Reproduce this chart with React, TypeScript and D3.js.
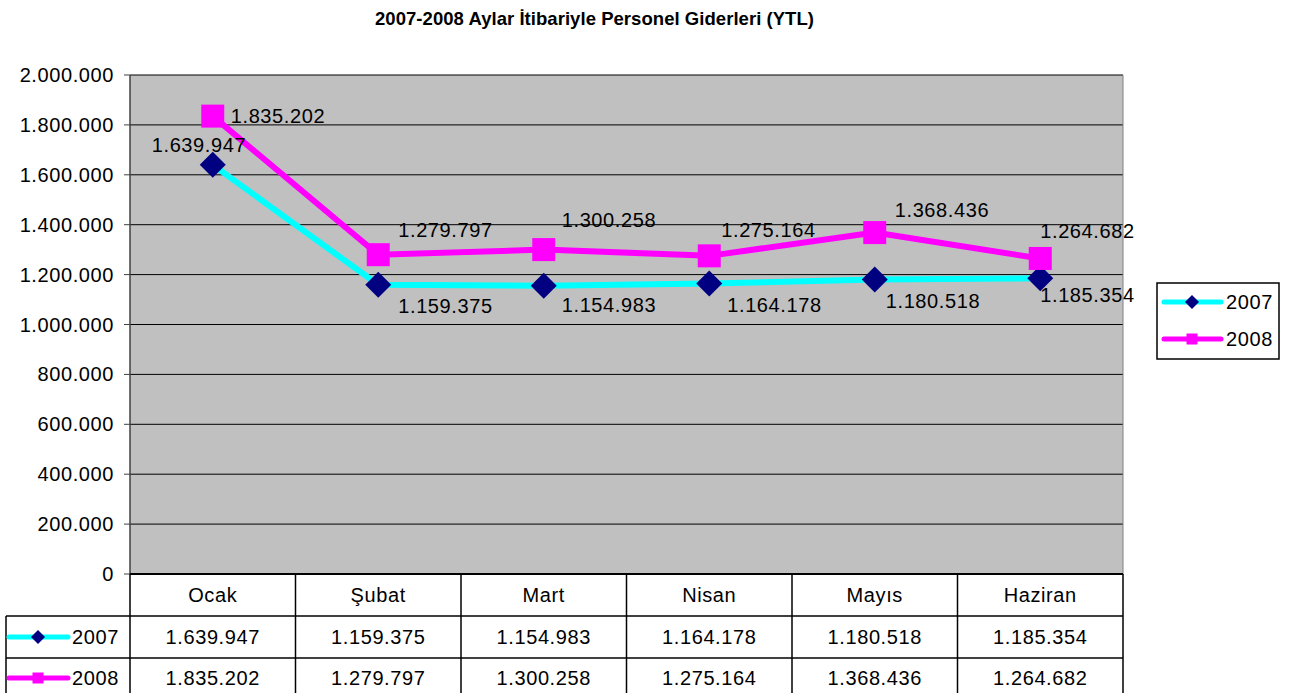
import React from "react";
import * as d3 from "d3";

const months = ["Ocak", "Şubat", "Mart", "Nisan", "Mayıs", "Haziran"];
const values2007 = [1639947, 1159375, 1154983, 1164178, 1180518, 1185354];
const values2008 = [1835202, 1279797, 1300258, 1275164, 1368436, 1264682];
const yTicks = [0, 200000, 400000, 600000, 800000, 1000000, 1200000, 1400000, 1600000, 1800000, 2000000];
const seriesNames = ["2007", "2008"];
const title = "2007-2008 Aylar İtibariyle Personel Giderleri (YTL)";

// label placement offsets (relative to the marker): [dx to label left, dy to baseline]
const labelOffsets2007 = [[-61, -13], [20, 28], [18, 26], [18, 28.5], [11, 28.5], [0, 24]];
const labelOffsets2008 = [[18, 7], [20, -18], [18, -23], [12, -19], [20, -16], [0, -20.5]];

const W = 1299;
const H = 693;
const plotL = 130;
const plotR = 1123;
const plotT = 75;
const plotB = 574;
const rowH = 42;
const FONT = "'Liberation Sans', Arial, sans-serif";
const FS = 20;
const LS = 0.6;

const trLocale = d3.formatLocale({ decimal: ",", thousands: ".", grouping: [3], currency: ["", " YTL"] });
const fmt = trLocale.format(",d");

const C2007 = "#00FFFF";
const M2007 = "#000080";
const C2008 = "#FF00FF";

function Diamond({ cx, cy, r, fill }: { cx: number; cy: number; r: number; fill: string }) {
  const p = `M${cx},${cy - r}L${cx + r},${cy}L${cx},${cy + r}L${cx - r},${cy}Z`;
  return <path d={p} fill={fill} />;
}

function Square({ cx, cy, s, fill }: { cx: number; cy: number; s: number; fill: string }) {
  return <rect x={cx - s / 2} y={cy - s / 2} width={s} height={s} fill={fill} />;
}

export default function App() {
  const x = d3.scaleBand<string>().domain(months).range([plotL, plotR]).paddingInner(0).paddingOuter(0);
  const y = d3.scaleLinear().domain([0, 2000000]).range([plotB, plotT]);
  const cx = (m: string) => (x(m) as number) + x.bandwidth() / 2;

  const line = d3
    .line<number>()
    .x((_, i) => cx(months[i]))
    .y((d) => y(d));

  const row1Top = plotB;
  const row2Top = plotB + rowH;
  const row3Top = plotB + 2 * rowH;
  const tableLeft = 6;

  const textStyle: React.CSSProperties = { fontFamily: FONT, fontSize: FS, letterSpacing: LS };

  return (
    <svg
      width={W}
      height={H}
      viewBox={`0 0 ${W} ${H}`}
      style={{ position: "absolute", left: 0, top: 0, background: "#fff" }}
    >
      <rect x={0} y={0} width={W} height={H} fill="#fff" />
      {/* Title */}
      <text
        x={594.5}
        y={25}
        textAnchor="middle"
        textLength={439}
        lengthAdjust="spacing"
        style={{ fontFamily: FONT, fontSize: 18.5, fontWeight: "bold" }}
      >
        {title}
      </text>

      {/* Plot area */}
      <rect x={plotL} y={plotT} width={plotR - plotL} height={plotB - plotT} fill="#C0C0C0" />
      {yTicks.map((t) => (
        <line key={"g" + t} x1={plotL} x2={plotR} y1={y(t)} y2={y(t)} stroke="#000" strokeWidth={1} />
      ))}
      <line x1={plotR} x2={plotR} y1={plotT} y2={plotB} stroke="#808080" strokeWidth={1} />
      <line x1={plotL} x2={plotL} y1={plotT} y2={plotB} stroke="#404040" strokeWidth={1.5} />

      {/* Y axis ticks and labels */}
      {yTicks.map((t) => (
        <g key={"t" + t}>
          <line x1={plotL - 6} x2={plotL} y1={y(t)} y2={y(t)} stroke="#404040" strokeWidth={1} />
          <text x={114} y={y(t)} dy="0.35em" textAnchor="end" style={textStyle}>
            {fmt(t)}
          </text>
        </g>
      ))}

      {/* Lines */}
      <path d={line(values2007) as string} fill="none" stroke={C2007} strokeWidth={6} strokeLinejoin="round" />
      <path d={line(values2008) as string} fill="none" stroke={C2008} strokeWidth={6} strokeLinejoin="round" />

      {/* Markers */}
      {values2007.map((v, i) => (
        <Diamond key={"d" + i} cx={cx(months[i])} cy={y(v)} r={13} fill={M2007} />
      ))}
      {values2008.map((v, i) => (
        <Square key={"s" + i} cx={cx(months[i])} cy={y(v)} s={23} fill={C2008} />
      ))}

      {/* Data labels */}
      {values2007.map((v, i) => (
        <text
          key={"l7" + i}
          x={cx(months[i]) + labelOffsets2007[i][0]}
          y={y(v) + labelOffsets2007[i][1]}
          style={textStyle}
        >
          {fmt(v)}
        </text>
      ))}
      {values2008.map((v, i) => (
        <text
          key={"l8" + i}
          x={cx(months[i]) + labelOffsets2008[i][0]}
          y={y(v) + labelOffsets2008[i][1]}
          style={textStyle}
        >
          {fmt(v)}
        </text>
      ))}

      {/* Data table */}
      <g>
        <line x1={plotL} x2={plotR} y1={row1Top} y2={row1Top} stroke="#000" strokeWidth={2} />
        <line x1={tableLeft} x2={plotR} y1={row2Top} y2={row2Top} stroke="#000" strokeWidth={1.5} />
        <line x1={tableLeft} x2={plotR} y1={row3Top} y2={row3Top} stroke="#000" strokeWidth={1.5} />
        <line x1={tableLeft} x2={tableLeft} y1={row2Top} y2={H + 5} stroke="#000" strokeWidth={1.5} />
        {months.map((m) => (
          <line key={"v" + m} x1={x(m) as number} x2={x(m) as number} y1={row1Top} y2={H + 5} stroke="#000" strokeWidth={1.5} />
        ))}
        <line x1={plotR} x2={plotR} y1={row1Top} y2={H + 5} stroke="#000" strokeWidth={1.5} />

        {months.map((m) => (
          <text key={"c" + m} x={cx(m)} y={row1Top + rowH / 2} dy="0.35em" textAnchor="middle" style={textStyle}>
            {m}
          </text>
        ))}
        {values2007.map((v, i) => (
          <text key={"t7" + i} x={cx(months[i])} y={row2Top + rowH / 2} dy="0.35em" textAnchor="middle" style={textStyle}>
            {fmt(v)}
          </text>
        ))}
        {values2008.map((v, i) => (
          <text key={"t8" + i} x={cx(months[i])} y={row3Top + rowH / 2 - 1} dy="0.35em" textAnchor="middle" style={textStyle}>
            {fmt(v)}
          </text>
        ))}

        {/* legend keys inside the table */}
        <line x1={9} x2={68} y1={row2Top + rowH / 2} y2={row2Top + rowH / 2} stroke={C2007} strokeWidth={5} strokeLinecap="round" />
        <Diamond cx={38} cy={row2Top + rowH / 2} r={7} fill={M2007} />
        <text x={72} y={row2Top + rowH / 2} dy="0.35em" style={textStyle}>
          {seriesNames[0]}
        </text>
        <line x1={9} x2={68} y1={row3Top + rowH / 2 - 1} y2={row3Top + rowH / 2 - 1} stroke={C2008} strokeWidth={5} strokeLinecap="round" />
        <Square cx={38} cy={row3Top + rowH / 2 - 1} s={11} fill={C2008} />
        <text x={72} y={row3Top + rowH / 2 - 1} dy="0.35em" style={textStyle}>
          {seriesNames[1]}
        </text>
      </g>

      {/* Legend box */}
      <g>
        <rect x={1157} y={283} width={122} height={76} fill="#fff" stroke="#000" strokeWidth={1.5} />
        <line x1={1164} x2={1221} y1={302} y2={302} stroke={C2007} strokeWidth={5} strokeLinecap="round" />
        <Diamond cx={1192} cy={302} r={7} fill={M2007} />
        <text x={1226} y={302} dy="0.35em" style={textStyle}>
          {seriesNames[0]}
        </text>
        <line x1={1164} x2={1221} y1={339} y2={339} stroke={C2008} strokeWidth={5} strokeLinecap="round" />
        <Square cx={1192} cy={339} s={11} fill={C2008} />
        <text x={1226} y={339} dy="0.35em" style={textStyle}>
          {seriesNames[1]}
        </text>
      </g>
    </svg>
  );
}
